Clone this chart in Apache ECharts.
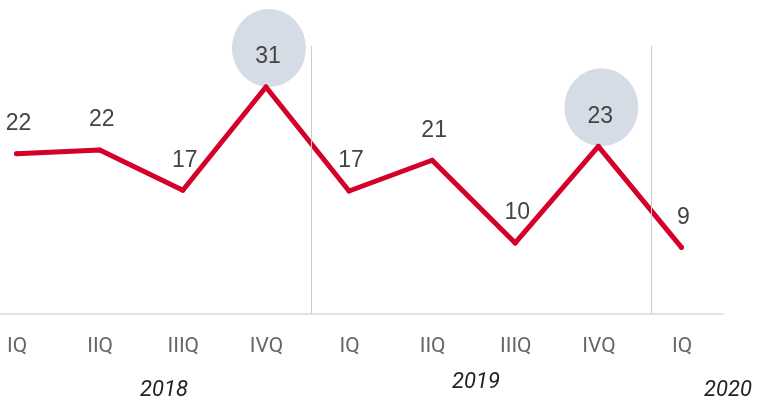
<!DOCTYPE html>
<html>
<head>
<meta charset="utf-8">
<script src="https://cdn.jsdelivr.net/npm/echarts@6/dist/echarts.min.js"></script>
<style>
  html, body { margin: 0; padding: 0; background: #fff; }
  #chart { width: 760px; height: 404px; }
</style>
</head>
<body>
<div id="chart"></div>
<script>
// quarters on the x axis
const quarters = ['IQ', 'IIQ', 'IIIQ', 'IVQ', 'IQ', 'IIQ', 'IIIQ', 'IVQ', 'IQ'];
// values
const values = [21.9, 22.4, 16.9, 31, 16.8, 21, 9.7, 22.9, 9.1];
// quarters that get the grey bubble
const highlighted = [3, 7];
// year separators, in quarter units
const yearBreaks = [3.55, 7.64];
const years = ['2018', '2019', '2020'];

const lineColor = '#d4002a';
const bubbleColor = '#d5dce6';

const chart = echarts.init(document.getElementById('chart'));

const option = {
  animation: false,
  grid: [
    // plot area, the base line runs across it
    { left: 0, right: 37, top: 46, bottom: 90 },
    // quarter labels, one per point
    { left: 17, right: 78, top: 46, bottom: 90 }
  ],
  xAxis: [
    {
      type: 'value',
      gridIndex: 0,
      min: -0.2,
      max: 8.5,
      axisLine: {
        show: true,
        onZero: false,
        lineStyle: { color: '#d9d9d9', width: 1.5 }
      },
      axisTick: { show: false },
      axisLabel: { show: false },
      splitLine: { show: false }
    },
    {
      type: 'category',
      gridIndex: 1,
      data: quarters,
      boundaryGap: false,
      axisLine: { show: false },
      axisTick: { show: false },
      axisLabel: {
        color: '#666',
        fontSize: 21,
        fontFamily: 'Roboto',
        margin: 22
      }
    }
  ],
  yAxis: [
    { type: 'value', gridIndex: 0, min: 0, max: 36.6, show: false },
    { type: 'value', gridIndex: 1, min: 0, max: 36.6, show: false }
  ],
  series: [
    {
      type: 'line',
      xAxisIndex: 0,
      yAxisIndex: 0,
      data: values.map((v, i) => [i, v]),
      z: 2,
      symbol: 'circle',
      symbolSize: 5,
      lineStyle: { color: lineColor, width: 5, cap: 'round', join: 'round' },
      itemStyle: { color: lineColor },
      label: {
        show: true,
        position: 'top',
        distance: 16,
        offset: [2, 0],
        color: '#444',
        fontSize: 23,
        fontFamily: 'Liberation Sans',
        formatter: (p) => Math.round(p.value[1])
      },
      markPoint: {
        z: 1,
        symbol: 'circle',
        symbolSize: [74, 78],
        symbolOffset: [3, -39],
        silent: true,
        label: { show: false },
        itemStyle: { color: bubbleColor },
        data: highlighted.map((i) => ({ coord: [i, values[i]] }))
      },
      markLine: {
        silent: true,
        symbol: 'none',
        label: { show: false },
        lineStyle: { color: '#cccccc', width: 1, type: 'solid' },
        data: yearBreaks.map((x) => ({ xAxis: x }))
      }
    }
  ],
  graphic: [
    { type: 'text', left: 140, top: 379, style: { text: years[0], font: 'italic 22px Roboto', fill: '#222' } },
    { type: 'text', left: 452, top: 371, style: { text: years[1], font: 'italic 22px Roboto', fill: '#222' } },
    { type: 'text', left: 704, top: 379, style: { text: years[2], font: 'italic 22px Roboto', fill: '#222' } }
  ]
};

chart.setOption(option);
</script>
</body>
</html>
